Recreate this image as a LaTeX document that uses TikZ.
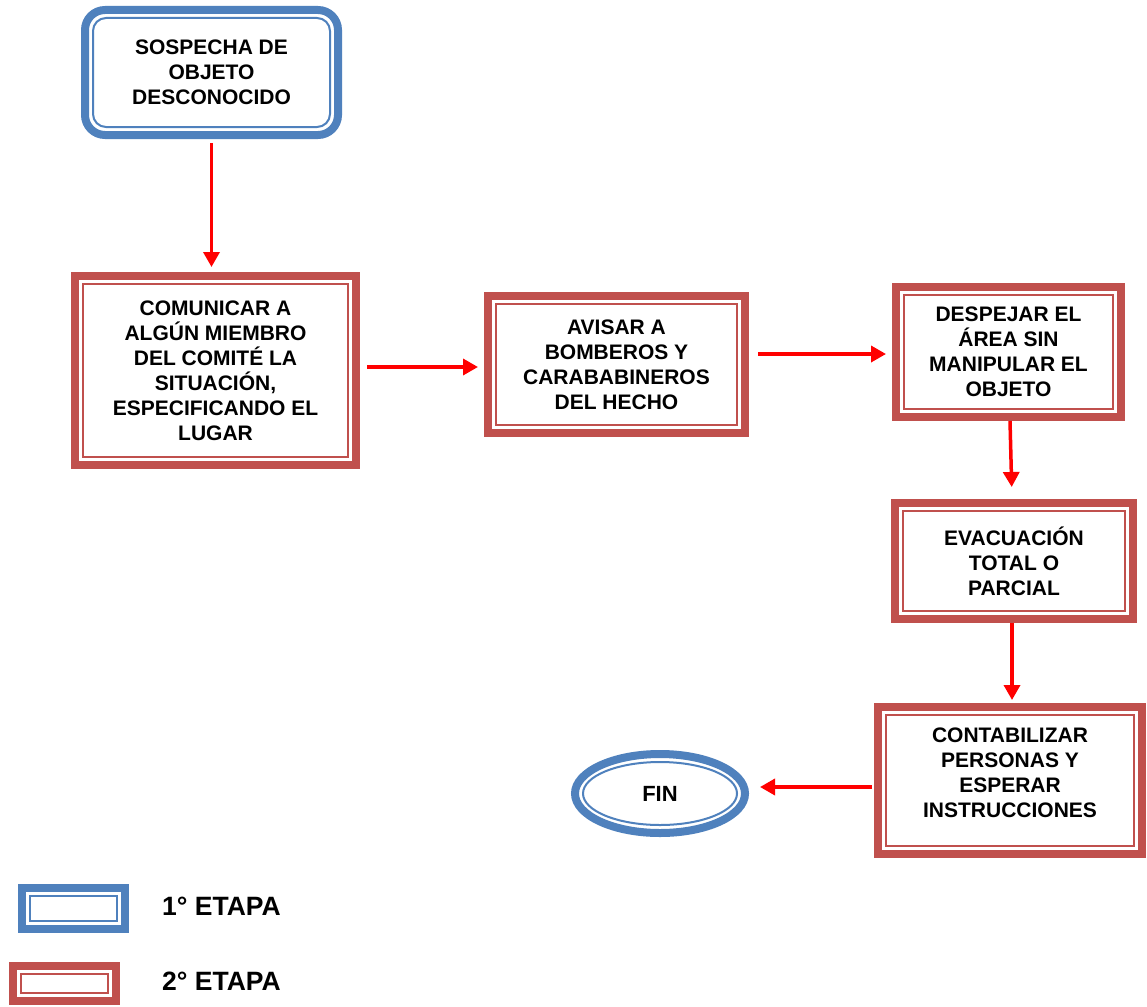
\documentclass[tikz,border=0pt]{standalone}
\usepackage{fontspec}
\setmainfont{Liberation Sans}
\usetikzlibrary{arrows.meta,shapes.geometric}
\definecolor{bblue}{HTML}{4F81BD}
\definecolor{rred}{HTML}{C0504D}
\begin{document}
\begin{tikzpicture}[x=1pt,y=-1pt,
  txt/.style={font=\bfseries\fontsize{21}{25}\selectfont, align=center, text=black},
  stage/.style={txt, line width=8pt, inner sep=0pt, fill=white},
  redbox/.style={stage, draw=rred, rectangle,
    path picture={\draw[rred, line width=2pt]
      ([shift={(8pt,-8pt)}]path picture bounding box.north west) rectangle
      ([shift={(-8pt,8pt)}]path picture bounding box.south east);}},
  blueplain/.style={stage, draw=bblue, rectangle,
    path picture={\draw[bblue, line width=2pt]
      ([shift={(8pt,-8pt)}]path picture bounding box.north west) rectangle
      ([shift={(-8pt,8pt)}]path picture bounding box.south east);}},
  bluebox/.style={stage, draw=bblue, rectangle, rounded corners=20pt,
    path picture={\draw[bblue, line width=2pt, rounded corners=13pt]
      ([shift={(8pt,-8pt)}]path picture bounding box.north west) rectangle
      ([shift={(-8pt,8pt)}]path picture bounding box.south east);}},
  arr/.style={draw=red, line width=3.5pt, -{Triangle[width=16pt,length=15pt]}},
  legtxt/.style={font=\bfseries\fontsize{26.5}{30}\selectfont, anchor=west, inner sep=0pt},
]
\useasboundingbox (0,0) rectangle (1147,1006);
\fill[white] (0,0) rectangle (1147,1006);

\node[bluebox, minimum width=253pt, minimum height=125pt] (b1) at (211.5,72.5)
  {SOSPECHA DE\\OBJETO\\DESCONOCIDO};
\node[redbox, minimum width=281pt, minimum height=189pt] (b2) at (215.5,370.5)
  {COMUNICAR A\\ALGÚN MIEMBRO\\DEL COMITÉ LA\\SITUACIÓN,\\ESPECIFICANDO EL\\LUGAR};
\node[redbox, minimum width=257pt, minimum height=137pt] (b3) at (616.5,364.5)
  {AVISAR A\\BOMBEROS Y\\CARABABINEROS\\DEL HECHO};
\node[redbox, minimum width=225pt, minimum height=130pt] (b4) at (1008.5,352)
  {DESPEJAR EL\\ÁREA SIN\\MANIPULAR EL\\OBJETO};
\node[redbox, minimum width=238pt, minimum height=116pt] (b5) at (1014,561)
  {EVACUACIÓN\\TOTAL O\\PARCIAL};
\node[redbox, minimum width=264pt, minimum height=147pt, text depth=15pt] (b6) at (1010,780.5)
  {CONTABILIZAR\\PERSONAS Y\\ESPERAR\\INSTRUCCIONES};
\node[ellipse, draw=bblue, line width=8pt, fill=white, minimum width=170pt, minimum height=79pt,
  inner sep=0pt, font=\bfseries\fontsize{22}{26}\selectfont] (fin) at (660,793.5) {FIN};
\draw[bblue, line width=2pt] (fin.center) ellipse [x radius=77pt, y radius=31.5pt];

% arrows
\draw[arr, shorten <=4pt, shorten >=5pt] (b1.south) -- (b1.south |- b2.north);
\draw[arr, shorten <=7pt, shorten >=6pt] (b2.east |- 0,367) -- (b3.west |- 0,367);
\draw[arr, shorten <=9pt, shorten >=6pt] (b3.east |- 0,354) -- (b4.west |- 0,354);
\draw[arr, shorten <=0pt, shorten >=12pt] ([xshift=1.5pt]b4.south) -- ([xshift=-2pt]b5.north);
\draw[arr, shorten <=0pt, shorten >=3pt] ([xshift=-2pt]b5.south) -- ([xshift=2pt]b6.north);
\draw[arr, shorten <=2pt, shorten >=11pt] (b6.west |- 0,787) -- (fin.east |- 0,787);

% legend
\node[blueplain, minimum width=103pt, minimum height=41pt] (l1) at (73.5,908.5) {};
\node[redbox, minimum width=103pt, minimum height=35pt] (l2) at (64.5,983.5) {};
\node[legtxt] (t1) at (162,906) {1° ETAPA};
\node[legtxt] (t2) at (162,981) {2° ETAPA};
\end{tikzpicture}
\end{document}
